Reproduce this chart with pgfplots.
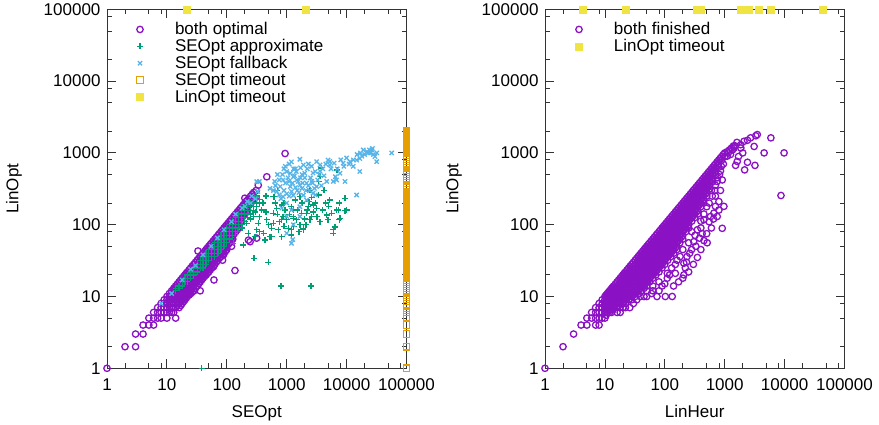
\documentclass[border=0pt]{standalone}
\usepackage{pgfplots}
\pgfplotsset{compat=1.18}
\usepackage{fontspec}
\setmainfont{Liberation Sans}
\definecolor{cpur}{HTML}{8A12C4}
\definecolor{cgrn}{HTML}{009E73}
\definecolor{cblu}{HTML}{56B4E9}
\definecolor{corg}{HTML}{E69F00}
\definecolor{cyel}{HTML}{F0E442}
\newcommand{\fs}{\fontsize{17}{20}\selectfont}
\begin{document}
\begin{tikzpicture}
\path[use as bounding box] (0pt,0pt) rectangle (879pt,425pt);
% ---------------- left panel ----------------
\begin{axis}[at={(107pt,56.7pt)}, anchor=south west,
    scale only axis, width=299.5pt, height=359pt,
    xmode=log, ymode=log, xmin=1, xmax=100000, ymin=1, ymax=100000,
    xtick={1,10,100,1000,10000,100000}, xticklabels={1,10,100,1000,10000,100000},
    ytick={1,10,100,1000,10000,100000}, yticklabels={1,10,100,1000,10000,100000},
    minor xtick={2,5,8,20,50,80,200,500,800,2000,5000,8000,20000,50000,80000},
    minor ytick={2,5,8,20,50,80,200,500,800,2000,5000,8000,20000,50000,80000},
    xtick pos=both, ytick pos=both, xticklabel pos=lower, yticklabel pos=left,
    tick align=inside, major tick length=9pt, minor tick length=5pt,
    every tick/.style={black!80, line width=0.8pt},
    axis line style={black!80, line width=0.9pt},
    tick label style={font=\fs},
    xticklabel style={yshift=-6.7pt},
    yticklabel style={xshift=-3pt},
    label style={font=\fs},
    clip=false,
    legend cell align=left,
    legend style={draw=none, fill=none, inner sep=0pt, outer sep=0pt, row sep=0pt, font=\fs, anchor=north west,
      nodes={inner sep=0pt, text height=13.5pt, text depth=3.4pt},
      at={(axis description cs:0.0935,0.9674)}},
    legend image code/.code={\path[draw=none] (-5pt,0pt) -- (35pt,0pt); \draw[#1] plot coordinates {(0pt,0pt)};},
    xlabel={SEOpt}, ylabel={LinOpt},
    xlabel style={at={(axis description cs:0.5,-0.1365)}, anchor=base},
    ylabel style={at={(axis description cs:-0.2962,0.5)}, anchor=base}]
\addplot[only marks, mark=o, color=cpur, mark size=3.2pt, mark options={line width=1.3pt}] coordinates {
(1,1)(2,2)(3,2)(3,3)(4,3)(4,4)(5,4)(5,5)(6,4)(6,5)(6,6)(7,5)(7,6)(7,7)(8,5)(8,6)(8,7)(8,8)(9,6)(9,7)(9,8)(9,9)
(10,5)(10,6)(10,7)(10,8)(10,9)(10,10)
(11,6)(11,7)(11,8)(11,9)(11,10)(11,11)
(12,6)(12,7)(12,8)(12,9)(12,10)(12,11)(12,12)
(13,6)(13,7)(13,8)(13,9)(13,10)(13,11)(13,12)(13,13)
(14,7)(14,8)(14,9)(14,10)(14,11)(14,12)(14,13)(14,14)
(16,7)(16,8)(16,9)(16,10)(16,11)(16,12)(16,14)(16,16)
(18,8)(18,9)(18,10)(18,11)(18,12)(18,14)(18,16)(18,18)
(20,9)(20,10)(20,11)(20,12)(20,14)(20,16)(20,18)(20,20)
(22,10)(22,11)(22,12)(22,14)(22,16)(22,18)(22,20)(22,22)
(25,11)(25,12)(25,14)(25,16)(25,18)(25,20)(25,22)(25,25)
(28,12)(28,14)(28,16)(28,18)(28,20)(28,22)(28,25)(28,28)
(32,14)(32,16)(32,18)(32,20)(32,22)(32,25)(32,28)(32,32)
(36,16)(36,18)(36,20)(36,22)(36,25)(36,28)(36,32)(36,36)
(40,18)(40,20)(40,22)(40,25)(40,28)(40,32)(40,36)(40,40)
(45,20)(45,22)(45,25)(45,28)(45,32)(45,36)(45,40)(45,45)
(50,22)(50,25)(50,28)(50,32)(50,36)(50,40)(50,45)(50,50)
(56,25)(56,28)(56,32)(56,36)(56,40)(56,45)(56,50)(56,56)
(63,28)(63,32)(63,36)(63,40)(63,45)(63,50)(63,56)(63,63)
(71,32)(71,36)(71,40)(71,45)(71,50)(71,56)(71,63)(71,71)
(80,36)(80,40)(80,45)(80,50)(80,56)(80,63)(80,71)(80,80)
(90,40)(90,45)(90,50)(90,56)(90,63)(90,71)(90,80)(90,90)
(100,45)(100,50)(100,56)(100,63)(100,71)(100,80)(100,90)(100,100)
(112,56)(112,63)(112,71)(112,80)(112,90)(112,100)(112,112)
(126,63)(126,71)(126,80)(126,90)(126,100)(126,112)(126,126)
(141,80)(141,90)(141,100)(141,112)(141,126)(141,141)
(158,90)(158,100)(158,112)(158,126)(158,141)(158,158)
(178,112)(178,126)(178,141)(178,158)(178,178)
(200,141)(200,158)(200,178)(200,200)
(224,158)(224,178)(224,200)(224,224)
(251,200)(251,224)(251,251)
(282,224)(282,251)(282,282)
(15,7.5)(15,8.5)(15,9.5)(15,10.5)(15,11.5)(15,12.5)(15,13.5)(15,15)
(17,7.5)(17,8.5)(17,9.5)(17,10.5)(17,11.5)(17,13)(17,15)(17,17)
(19,8.5)(19,9.5)(19,10.5)(19,11.5)(19,13)(19,15)(19,17)(19,19)
(21,9.5)(21,10.5)(21,11.5)(21,13)(21,15)(21,17)(21,19)(21,21)
(23.5,10.5)(23.5,11.5)(23.5,13)(23.5,15)(23.5,17)(23.5,19)(23.5,21)(23.5,23.5)
(26.5,11.5)(26.5,13)(26.5,15)(26.5,17)(26.5,19)(26.5,21)(26.5,23.5)(26.5,26.5)
(30,13)(30,15)(30,17)(30,19)(30,21)(30,23.5)(30,26.5)(30,30)
(34,15)(34,17)(34,19)(34,21)(34,23.5)(34,26.5)(34,30)(34,34)
(38,17)(38,19)(38,21)(38,23.5)(38,26.5)(38,30)(38,34)(38,38)
(42.5,19)(42.5,21)(42.5,23.5)(42.5,26.5)(42.5,30)(42.5,34)(42.5,38)(42.5,42.5)
(47.5,21)(47.5,23.5)(47.5,26.5)(47.5,30)(47.5,34)(47.5,38)(47.5,42.5)(47.5,47.5)
(53,23.5)(53,26.5)(53,30)(53,34)(53,38)(53,42.5)(53,47.5)(53,53)
(59.5,26.5)(59.5,30)(59.5,34)(59.5,38)(59.5,42.5)(59.5,47.5)(59.5,53)(59.5,59.5)
(67,30)(67,34)(67,38)(67,42.5)(67,47.5)(67,53)(67,59.5)(67,67)
(75,34)(75,38)(75,42.5)(75,47.5)(75,53)(75,59.5)(75,67)(75,75)
(85,38)(85,42.5)(85,47.5)(85,53)(85,59.5)(85,67)(85,75)(85,85)
(95,42.5)(95,47.5)(95,53)(95,59.5)(95,67)(95,75)(95,85)(95,95)
(106,53)(106,59.5)(106,67)(106,75)(106,85)(106,95)(106,106)
(119,59.5)(119,67)(119,75)(119,85)(119,95)(119,106)(119,119)
(133.5,75)(133.5,85)(133.5,95)(133.5,106)(133.5,119)(133.5,133.5)
(149.5,85)(149.5,95)(149.5,106)(149.5,119)(149.5,133.5)(149.5,149.5)
(168,106)(168,119)(168,133.5)(168,149.5)(168,168)
(189,133.5)(189,149.5)(189,168)(189,189)
(212,149.5)(212,168)(212,189)(212,212)
(237.5,189)(237.5,212)(237.5,237.5)
(266.5,212)(266.5,237.5)(266.5,266.5)
(14,5)(36,12)(28,12)(20,11)(61,17)(85,32)(137,23)(230,61)(245,58)(315,65)(295,233)(335,355)(465,465)(940,980)
(200,234)(33,43)(310,300)(120,50)(46,29)(19,14)(88,38)(60,26)
};
\addlegendentry{both optimal}
\addplot[only marks, mark=+, color=cgrn, mark size=3pt, mark options={line width=1.3pt}] coordinates {
(14,12)(14,13)(16,13)(16,14)(18,14)(18,16)(20,16)(20,18)(22,16)(22,18)(22,20)(25,18)(25,20)(25,22)
(28,20)(28,22)(28,25)(32,22)(32,25)(32,28)(36,25)(36,28)(36,32)(40,25)(40,28)(40,32)(40,36)
(45,28)(45,32)(45,36)(45,40)(50,32)(50,36)(50,40)(50,45)(56,36)(56,40)(56,45)(56,50)
(63,36)(63,40)(63,45)(63,50)(63,56)(71,40)(71,45)(71,50)(71,56)(71,63)(80,45)(80,50)(80,56)(80,63)(80,71)
(90,50)(90,56)(90,63)(90,71)(90,80)(100,56)(100,63)(100,71)(100,80)(100,90)
(112,63)(112,71)(112,80)(112,90)(112,100)(126,71)(126,80)(126,90)(126,100)(126,112)
(141,80)(141,90)(141,100)(141,112)(141,126)(158,90)(158,100)(158,112)(158,126)(158,141)
(178,100)(178,112)(178,126)(178,141)(178,158)(200,112)(200,126)(200,141)(200,158)(200,178)
(224,126)(224,141)(224,158)(224,178)(224,200)(251,141)(251,158)(251,178)(251,200)
(282,158)(282,178)(282,200)(282,224)(316,178)(316,200)(316,224)(316,251)(355,200)(355,224)
(285,34)(495,30)(800,14)(2550,14)(38,1)(600,245)(940,160)(1660,245)(2780,188)(3600,470)(6950,580)
(9400,233)(9400,156)(7550,118)(6400,93)(6000,76)(3600,110)(2600,130)(1900,85)(1470,117)(1000,117)
(820,117)(820,68)(560,89)(525,68)(410,76)(315,85)(230,76)(190,52)(128,55)(277,130)(380,160)(465,117)
(680,170)(1200,178)(1290,130)(2150,144)(3160,170)(5250,220)(6800,160)(4650,137)(2350,209)(820,188)
(600,144)(215,105)(335,105)(600,105)(1200,85)(3800,615)(3400,400)(7600,200)(10000,160)(2450,300)
(2290,178)(1780,144)(1290,160)(1290,123)(870,130)(630,245)(5600,144)(7240,160)(7760,123)(6000,85)
(4900,117)(1660,100)(1070,89)(725,85)(1200,72)(1900,89)(2450,117)(355,80)(295,68)(435,61)(560,68)
(250,120)(300,150)(400,200)(450,250)(180,90)(150,80)(700,300)(350,130)
(700,140)(900,200)(1100,140)(1500,160)(1800,200)(2000,120)(2200,160)(2800,150)(3200,130)(4000,160)
(4500,200)(5000,180)(900,95)(1300,95)(1600,80)(2100,100)(750,110)(500,100)(450,150)(650,200)
(1400,220)(2600,240)(3000,200)(3400,260)(4200,300)
};
\addlegendentry{SEOpt approximate}
\addplot[only marks, mark=x, color=cblu, mark size=3pt, mark options={line width=1.3pt}] coordinates {
(1660,815)(3160,755)(4900,795)(5250,680)(8750,720)(11400,755)(14700,795)(16600,835)(21700,1040)
(26300,1100)(29800,890)(31800,755)(56600,1000)(23000,1000)(14700,259)(6800,420)(6500,465)(6000,400)
(7750,520)(9400,400)(4650,400)(3600,680)(1900,680)(1290,465)(870,420)(1000,550)(1470,420)(780,340)
(1150,340)(1660,355)(2150,380)(2630,400)(3160,340)(2750,275)(1900,257)(1290,257)(870,245)(680,290)
(630,400)(525,320)(1000,200)(1660,178)(2150,220)(1200,160)(830,170)(1000,130)(1660,130)(1290,100)
(1200,55)(1260,62)(16600,550)(12900,650)(5250,760)(2750,525)(1000,76)
(700,500)(900,600)(1100,700)(1400,600)(1800,500)(2200,600)(2600,650)(3000,550)(3500,500)(4000,600)
(4500,700)(2000,450)(1500,300)(1100,250)(800,230)(2400,300)(3000,260)(3800,350)(7000,600)(9000,650)
(11000,700)(13000,800)(18000,900)(20000,950)(25000,1000)(28000,950)(19000,1100)
(650,350)(750,420)(850,500)(950,380)(1050,450)(1150,520)(1250,380)(1350,480)(1450,550)(1550,400)
(1700,450)(1850,380)(2000,520)(2100,300)(2300,350)(2500,450)(2700,380)(2900,320)(3300,420)(900,300)
(1000,270)(1200,290)(1400,330)(1600,280)(1800,320)(750,260)(600,300)(1100,400)(1300,600)(1700,620)
(2300,700)(950,650)(1200,750)(3600,560)(4200,480)(5500,600)(6200,720)(8000,800)(10000,850)(15000,950)
(17000,1000)(24000,1100)(32000,1000)(27000,1150)
(8,8)(12,11)(18,17)(25,24)(30,27)(40,38)(55,50)(70,65)(90,85)(120,110)(140,140)(180,170)(220,210)
(260,250)(316,398)(350,400)(330,290)(300,230)(250,200)(200,180)
};
\addlegendentry{SEOpt fallback}
\addplot[only marks, mark=square, color=corg, mark size=3.3pt, mark options={line width=1.3pt}] coordinates {
(100000,1)(100000,2)(100000,3)(100000,4)(100000,5.2)(100000,6)(100000,6.9)(100000,7.9)(100000,9.1)
(100000,10.5)(100000,12)(100000,13.8)(100000,15.8)(100000,18.2)
(100000,19.5)(100000,20.2)(100000,20.9)(100000,21.6)(100000,22.4)(100000,23.2)(100000,24)(100000,24.8)
(100000,25.7)(100000,26.6)(100000,27.5)(100000,28.5)(100000,29.5)(100000,30.5)(100000,31.6)(100000,32.7)
(100000,33.9)(100000,35.1)(100000,36.3)(100000,37.6)(100000,38.9)(100000,40.3)(100000,41.7)(100000,43.2)
(100000,44.7)(100000,46.3)(100000,47.9)(100000,49.6)(100000,51.3)(100000,53.1)(100000,55)(100000,56.9)
(100000,58.9)(100000,61)(100000,63.1)(100000,65.3)(100000,67.6)(100000,70)(100000,72.4)(100000,75)
(100000,77.6)(100000,80.4)(100000,83.2)(100000,86.1)(100000,89.1)(100000,92.3)(100000,95.5)(100000,98.9)
(100000,102)(100000,106)(100000,110)(100000,113)(100000,117)(100000,122)(100000,126)(100000,130)
(100000,135)(100000,140)(100000,145)(100000,150)(100000,155)(100000,160)(100000,166)(100000,172)
(100000,178)(100000,184)(100000,191)(100000,197)(100000,204)(100000,212)(100000,219)(100000,227)
(100000,234)(100000,243)(100000,251)(100000,260)(100000,269)(100000,278)(100000,288)
(100000,331)(100000,380)(100000,437)(100000,501)(100000,575)(100000,661)(100000,759)(100000,871)(100000,1000)
(100000,1036)(100000,1072)(100000,1110)(100000,1148)(100000,1189)(100000,1230)(100000,1273)(100000,1318)
(100000,1365)(100000,1413)(100000,1462)(100000,1514)(100000,1567)(100000,1622)(100000,1679)(100000,1738)
(100000,1799)(100000,1862)(100000,1928)(100000,1995)
};
\addlegendentry{SEOpt timeout}
\addplot[only marks, mark=square*, color=cyel, mark size=3.5pt] coordinates {(21,100000)(2040,100000)};
\addlegendentry{LinOpt timeout}
\end{axis}
% ---------------- right panel ----------------
\begin{axis}[at={(545pt,56.7pt)}, anchor=south west,
    scale only axis, width=299.5pt, height=359pt,
    xmode=log, ymode=log, xmin=1, xmax=100000, ymin=1, ymax=100000,
    xtick={1,10,100,1000,10000,100000}, xticklabels={1,10,100,1000,10000,100000},
    ytick={1,10,100,1000,10000,100000}, yticklabels={1,10,100,1000,10000,100000},
    minor xtick={2,5,8,20,50,80,200,500,800,2000,5000,8000,20000,50000,80000},
    minor ytick={2,5,8,20,50,80,200,500,800,2000,5000,8000,20000,50000,80000},
    xtick pos=both, ytick pos=both, xticklabel pos=lower, yticklabel pos=left,
    tick align=inside, major tick length=9pt, minor tick length=5pt,
    every tick/.style={black!80, line width=0.8pt},
    axis line style={black!80, line width=0.9pt},
    tick label style={font=\fs},
    xticklabel style={yshift=-6.7pt},
    yticklabel style={xshift=-3pt},
    label style={font=\fs},
    clip=false,
    legend cell align=left,
    legend style={draw=none, fill=none, inner sep=0pt, outer sep=0pt, row sep=0pt, font=\fs, anchor=north west,
      nodes={inner sep=0pt, text height=13.5pt, text depth=3.4pt},
      at={(axis description cs:0.0968,0.9674)}},
    legend image code/.code={\path[draw=none] (-5pt,0pt) -- (35pt,0pt); \draw[#1] plot coordinates {(0pt,0pt)};},
    xlabel={LinHeur}, ylabel={LinOpt},
    xlabel style={at={(axis description cs:0.5,-0.1365)}, anchor=base},
    ylabel style={at={(axis description cs:-0.2895,0.5)}, anchor=base}]
\addplot[only marks, mark=o, color=cpur, mark size=3.2pt, mark options={line width=1.3pt}] coordinates {
(1,1)(2,2)(3,3)(4,4)(5,4)(5,5)(6,5)(6,6)(7,4)(7,5)(7,6)(7,7)(8,4)(8,5)(8,6)(8,7)(8,8)(9,5)(9,6)(9,7)(9,8)(9,9)
(10,5)(10,6)(10,7)(10,8)(10,9)(10,10)
(11,6)(11,7)(11,8)(11,9)(11,10)(11,11)
(12,6)(12,7)(12,8)(12,9)(12,10)(12,11)(12,12)
(13,6)(13,7)(13,8)(13,9)(13,10)(13,11)(13,12)(13,13)
(14,7)(14,8)(14,9)(14,10)(14,11)(14,12)(14,13)(14,14)
(16,7)(16,8)(16,9)(16,10)(16,11)(16,12)(16,13)(16,14)(16,16)
(18,7)(18,8)(18,9)(18,10)(18,11)(18,12)(18,14)(18,16)(18,18)
(20,8)(20,9)(20,10)(20,11)(20,12)(20,14)(20,16)(20,18)(20,20)
(22,8)(22,9)(22,10)(22,11)(22,12)(22,14)(22,16)(22,18)(22,20)(22,22)
(25,9)(25,10)(25,11)(25,12)(25,14)(25,16)(25,18)(25,20)(25,22)(25,25)
(28,10)(28,11)(28,12)(28,14)(28,16)(28,18)(28,20)(28,22)(28,25)(28,28)
(32,10)(32,12)(32,14)(32,16)(32,18)(32,20)(32,22)(32,25)(32,28)(32,32)
(36,11)(36,12)(36,14)(36,16)(36,18)(36,20)(36,22)(36,25)(36,28)(36,32)(36,36)
(40,12)(40,14)(40,16)(40,18)(40,20)(40,22)(40,25)(40,28)(40,32)(40,36)(40,40)
(45,13)(45,14)(45,16)(45,18)(45,20)(45,22)(45,25)(45,28)(45,32)(45,36)(45,40)(45,45)
(50,14)(50,16)(50,18)(50,20)(50,22)(50,25)(50,28)(50,32)(50,36)(50,40)(50,45)(50,50)
(56,16)(56,18)(56,20)(56,22)(56,25)(56,28)(56,32)(56,36)(56,40)(56,45)(56,50)(56,56)
(63,18)(63,20)(63,22)(63,25)(63,28)(63,32)(63,36)(63,40)(63,45)(63,50)(63,56)(63,63)
(71,20)(71,22)(71,25)(71,28)(71,32)(71,36)(71,40)(71,45)(71,50)(71,56)(71,63)(71,71)
(80,22)(80,25)(80,28)(80,32)(80,36)(80,40)(80,45)(80,50)(80,56)(80,63)(80,71)(80,80)
(90,25)(90,28)(90,32)(90,36)(90,40)(90,45)(90,50)(90,56)(90,63)(90,71)(90,80)(90,90)
(100,28)(100,32)(100,36)(100,40)(100,45)(100,50)(100,56)(100,63)(100,71)(100,80)(100,90)(100,100)
(112,32)(112,36)(112,40)(112,45)(112,50)(112,56)(112,63)(112,71)(112,80)(112,90)(112,100)(112,112)
(126,36)(126,40)(126,45)(126,50)(126,56)(126,63)(126,71)(126,80)(126,90)(126,100)(126,112)(126,126)
(141,40)(141,45)(141,50)(141,56)(141,63)(141,71)(141,80)(141,90)(141,100)(141,112)(141,126)(141,141)
(158,45)(158,50)(158,56)(158,63)(158,71)(158,80)(158,90)(158,100)(158,112)(158,126)(158,141)(158,158)
(178,56)(178,63)(178,71)(178,80)(178,90)(178,100)(178,112)(178,126)(178,141)(178,158)(178,178)
(200,63)(200,71)(200,80)(200,90)(200,100)(200,112)(200,126)(200,141)(200,158)(200,178)(200,200)
(224,80)(224,90)(224,100)(224,112)(224,126)(224,141)(224,158)(224,178)(224,200)(224,224)
(251,90)(251,100)(251,112)(251,126)(251,141)(251,158)(251,178)(251,200)(251,224)(251,251)
(282,112)(282,126)(282,141)(282,158)(282,178)(282,200)(282,224)(282,251)(282,282)
(316,126)(316,141)(316,158)(316,178)(316,200)(316,224)(316,251)(316,282)(316,316)
(355,141)(355,158)(355,178)(355,200)(355,224)(355,251)(355,282)(355,316)(355,355)
(398,178)(398,200)(398,224)(398,251)(398,282)(398,316)(398,355)(398,398)
(447,200)(447,224)(447,251)(447,282)(447,316)(447,355)(447,398)(447,447)
(501,251)(501,282)(501,316)(501,355)(501,398)(501,447)(501,501)
(562,316)(562,355)(562,398)(562,447)(562,501)(562,562)
(631,398)(631,447)(631,501)(631,562)(631,631)
(708,501)(708,562)(708,631)(708,708)
(794,631)(794,708)(794,794)
(891,794)(891,891)
(1000,891)(1000,1000)
(10.5,5.5)(10.5,6.5)(10.5,7.5)(10.5,8.5)(10.5,9.5)(10.5,10.5)
(11.5,6.5)(11.5,7.5)(11.5,8.5)(11.5,9.5)(11.5,10.5)(11.5,11.5)
(12.5,6.5)(12.5,7.5)(12.5,8.5)(12.5,9.5)(12.5,10.5)(12.5,11.5)(12.5,12.5)
(13.5,6.5)(13.5,7.5)(13.5,8.5)(13.5,9.5)(13.5,10.5)(13.5,11.5)(13.5,12.5)(13.5,13.5)
(15,7.5)(15,8.5)(15,9.5)(15,10.5)(15,11.5)(15,12.5)(15,13.5)(15,15)
(17,7.5)(17,8.5)(17,9.5)(17,10.5)(17,11.5)(17,13)(17,15)(17,17)
(19,8.5)(19,9.5)(19,10.5)(19,11.5)(19,13)(19,15)(19,17)(19,19)
(21,8.5)(21,9.5)(21,10.5)(21,11.5)(21,13)(21,15)(21,17)(21,19)(21,21)
(23.5,9.5)(23.5,10.5)(23.5,11.5)(23.5,13)(23.5,15)(23.5,17)(23.5,19)(23.5,21)(23.5,23.5)
(26.5,10.5)(26.5,11.5)(26.5,13)(26.5,15)(26.5,17)(26.5,19)(26.5,21)(26.5,23.5)(26.5,26.5)
(30,10.5)(30,11.5)(30,13)(30,15)(30,17)(30,19)(30,21)(30,23.5)(30,26.5)(30,30)
(34,11.5)(34,13)(34,15)(34,17)(34,19)(34,21)(34,23.5)(34,26.5)(34,30)(34,34)
(38,13)(38,15)(38,17)(38,19)(38,21)(38,23.5)(38,26.5)(38,30)(38,34)(38,38)
(42.5,13.5)(42.5,15)(42.5,17)(42.5,19)(42.5,21)(42.5,23.5)(42.5,26.5)(42.5,30)(42.5,34)(42.5,38)(42.5,42.5)
(47.5,15)(47.5,17)(47.5,19)(47.5,21)(47.5,23.5)(47.5,26.5)(47.5,30)(47.5,34)(47.5,38)(47.5,42.5)(47.5,47.5)
(53,17)(53,19)(53,21)(53,23.5)(53,26.5)(53,30)(53,34)(53,38)(53,42.5)(53,47.5)(53,53)
(59.5,19)(59.5,21)(59.5,23.5)(59.5,26.5)(59.5,30)(59.5,34)(59.5,38)(59.5,42.5)(59.5,47.5)(59.5,53)(59.5,59.5)
(67,21)(67,23.5)(67,26.5)(67,30)(67,34)(67,38)(67,42.5)(67,47.5)(67,53)(67,59.5)(67,67)
(75,23.5)(75,26.5)(75,30)(75,34)(75,38)(75,42.5)(75,47.5)(75,53)(75,59.5)(75,67)(75,75)
(85,26.5)(85,30)(85,34)(85,38)(85,42.5)(85,47.5)(85,53)(85,59.5)(85,67)(85,75)(85,85)
(95,30)(95,34)(95,38)(95,42.5)(95,47.5)(95,53)(95,59.5)(95,67)(95,75)(95,85)(95,95)
(106,34)(106,38)(106,42.5)(106,47.5)(106,53)(106,59.5)(106,67)(106,75)(106,85)(106,95)(106,106)
(119,38)(119,42.5)(119,47.5)(119,53)(119,59.5)(119,67)(119,75)(119,85)(119,95)(119,106)(119,119)
(133.5,42.5)(133.5,47.5)(133.5,53)(133.5,59.5)(133.5,67)(133.5,75)(133.5,85)(133.5,95)(133.5,106)(133.5,119)(133.5,133.5)
(149.5,47.5)(149.5,53)(149.5,59.5)(149.5,67)(149.5,75)(149.5,85)(149.5,95)(149.5,106)(149.5,119)(149.5,133.5)(149.5,149.5)
(168,59.5)(168,67)(168,75)(168,85)(168,95)(168,106)(168,119)(168,133.5)(168,149.5)(168,168)
(189,67)(189,75)(189,85)(189,95)(189,106)(189,119)(189,133.5)(189,149.5)(189,168)(189,189)
(212,85)(212,95)(212,106)(212,119)(212,133.5)(212,149.5)(212,168)(212,189)(212,212)
(237.5,95)(237.5,106)(237.5,119)(237.5,133.5)(237.5,149.5)(237.5,168)(237.5,189)(237.5,212)(237.5,237.5)
(266.5,119)(266.5,133.5)(266.5,149.5)(266.5,168)(266.5,189)(266.5,212)(266.5,237.5)(266.5,266.5)
(299,133.5)(299,149.5)(299,168)(299,189)(299,212)(299,237.5)(299,266.5)(299,299)
(335.5,149.5)(335.5,168)(335.5,189)(335.5,212)(335.5,237.5)(335.5,266.5)(335.5,299)(335.5,335.5)
(376.5,189)(376.5,212)(376.5,237.5)(376.5,266.5)(376.5,299)(376.5,335.5)(376.5,376.5)
(422.5,212)(422.5,237.5)(422.5,266.5)(422.5,299)(422.5,335.5)(422.5,376.5)(422.5,422.5)
(474,266.5)(474,299)(474,335.5)(474,376.5)(474,422.5)(474,474)
(531.5,335.5)(531.5,376.5)(531.5,422.5)(531.5,474)(531.5,531.5)
(596.5,422.5)(596.5,474)(596.5,531.5)(596.5,596.5)
(669.5,531.5)(669.5,596.5)(669.5,669.5)
(751,669.5)(751,751)(842.5,842.5)(945.5,945.5)
(16,6)(18,6)(20,7)(22,7)(26,7)(30,8)(28,9)(34,9)(39,10)(45,10)(50,10)(60,11)(74,10)(102,10)(133,10)
(50,12)(63,12)(80,12)(63,14)(80,16)(90,14)(100,15)(110,18)(120,20)(110,21)(150,21)(130,25)(150,28)
(208,20)(220,25)(208,29)(160,32)(180,36)(235,36)(200,45)(280,45)(250,56)(305,58)(320,71)(350,85)
(280,80)(400,90)(400,112)(450,117)(450,141)(510,56)(500,178)(580,130)(550,200)(620,250)(660,145)
(680,300)(750,130)(700,355)(760,450)(800,210)(850,300)(850,560)(910,89)(910,420)(950,700)(970,180)(700,250)
(140,14)(170,16)(200,18)(250,22)(300,28)(350,35)(400,45)(450,60)(500,75)(600,90)(550,110)(650,120)
(800,160)(700,180)(230,30)(260,40)(330,50)(380,65)(420,75)(600,300)(750,400)(820,500)(880,650)
(1100,1040)(1200,1100)(1300,1170)(1430,1170)(1500,1250)(1600,1400)(1700,890)(1850,1300)(1860,1170)
(2000,1000)(2100,1450)(2400,1500)(2700,1620)(3300,1730)(3500,1800)(3100,1230)(5900,1620)(4550,1000)
(9800,1000)(8700,255)(1620,760)(2400,740)(2150,580)(3200,670)(1520,670)(1250,950)(1100,900)(1150,1000)
(1350,1100)(1400,1250)
};
\addlegendentry{both finished}
\addplot[only marks, mark=square*, color=cyel, mark size=3.5pt] coordinates {(4.2,100000)(22,100000)(347,100000)(405,100000)(1850,100000)(2150,100000)
(2500,100000)(3730,100000)(5770,100000)(43600,100000)};
\addlegendentry{LinOpt timeout}
\end{axis}
\end{tikzpicture}
\end{document}
